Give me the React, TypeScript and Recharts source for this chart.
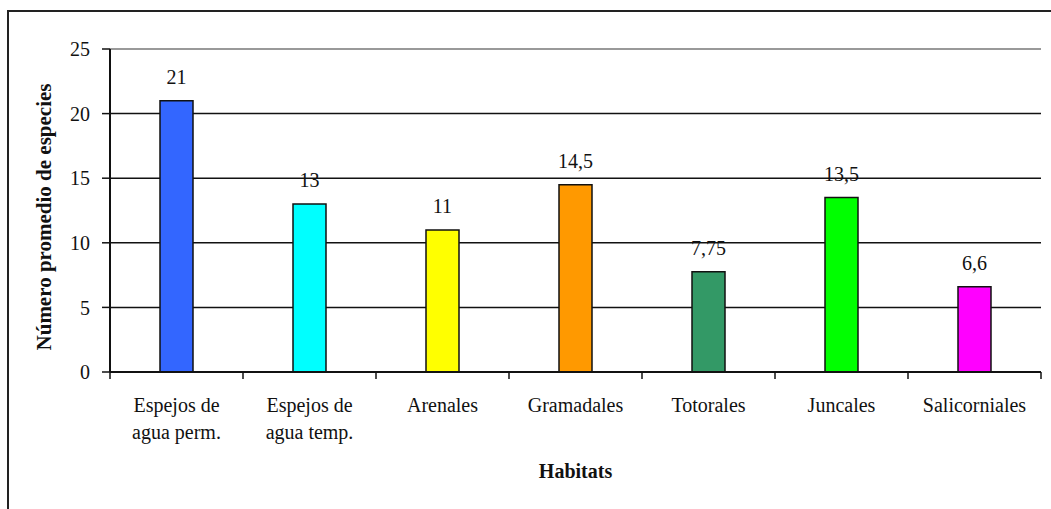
import React from 'react';
import { BarChart, Bar, XAxis, YAxis, CartesianGrid, Cell, LabelList, ReferenceLine, Label } from 'recharts';

const categories = ['Espejos de agua perm.', 'Espejos de agua temp.', 'Arenales', 'Gramadales', 'Totorales', 'Juncales', 'Salicorniales'];
const categoryLines = [['Espejos de', 'agua perm.'], ['Espejos de', 'agua temp.'], ['Arenales'], ['Gramadales'], ['Totorales'], ['Juncales'], ['Salicorniales']];
const values = [21, 13, 11, 14.5, 7.75, 13.5, 6.6];
const colors = ['#3366FF', '#00FFFF', '#FFFF00', '#FF9900', '#339966', '#00FF00', '#FF00FF'];
const yTicks = [0, 5, 10, 15, 20, 25];
const yLabel = 'Número promedio de especies';
const xLabel = 'Habitats';

const data = categories.map((c, i) => ({ name: c, value: values[i] }));

const FONT = '"Liberation Serif", "Times New Roman", serif';

const XTick = (props: any) => {
  const { x, y, payload } = props;
  const lines = categoryLines[payload.index] || [payload.value];
  const half = payload.offset || 0;
  const isLast = payload.index === categories.length - 1;
  return (
    <g>
      <line x1={x - half} x2={x - half} y1={y} y2={y + 7} stroke="#111" strokeWidth={1.5} />
      {isLast && <line x1={x + half} x2={x + half} y1={y} y2={y + 7} stroke="#111" strokeWidth={1.5} />}
      <text x={x} y={y} textAnchor="middle" fontFamily={FONT} fontSize={20} fill="#111">
        {lines.map((l: string, i: number) => (
          <tspan key={i} x={x} dy={i === 0 ? 40 : 27}>{l}</tspan>
        ))}
      </text>
    </g>
  );
};

const YLabelContent = (props: any) => {
  const cx = 51;
  const cy = 217;
  return (
    <text x={cx} y={cy} transform={`rotate(-90, ${cx}, ${cy})`} textAnchor="middle" fontFamily={FONT} fontSize={21} fontWeight="bold" fill="#111">
      {yLabel}
    </text>
  );
};

const XLabelContent = (props: any) => {
  const vb = props.viewBox;
  return (
    <text x={vb.x + vb.width / 2} y={vb.y + 106} textAnchor="middle" fontFamily={FONT} fontSize={20} fontWeight="bold" fill="#111">
      {xLabel}
    </text>
  );
};

export default function App() {
  return (
    <div style={{ position: 'fixed', left: 0, top: 0, width: 1051, height: 509, overflow: 'hidden', background: '#fff' }}>
      <div style={{ position: 'absolute', left: 7, top: 10, width: 1100, height: 600, border: '2px solid #222', boxSizing: 'border-box' }} />
      <div style={{ position: 'absolute', left: 0, top: 0 }}>
        <BarChart width={1051} height={509} data={data} margin={{ top: 49, right: 10, left: 0, bottom: 0 }}>
          <CartesianGrid vertical={false} stroke="#111" strokeWidth={1.5} strokeOpacity={1} />
          <XAxis dataKey="name" tick={<XTick />} tickLine={false} tickSize={0} tickMargin={0} axisLine={{ stroke: '#111', strokeWidth: 2 }} height={137} interval={0}>
            <Label content={<XLabelContent />} />
          </XAxis>
          <YAxis domain={[0, 25]} ticks={yTicks} width={110} tickSize={8} tickMargin={12} axisLine={{ stroke: '#111', strokeWidth: 2 }} tickLine={{ stroke: '#111', strokeWidth: 1.5 }} tick={{ fontFamily: FONT, fontSize: 20, fill: '#111' }}>
            <Label content={<YLabelContent />} />
          </YAxis>
          <YAxis yAxisId="r" orientation="right" domain={[0, 25]} width={0} tick={false} tickLine={false} axisLine={{ stroke: '#999', strokeWidth: 2 }} />
          <ReferenceLine y={25} stroke="#999" strokeWidth={2} />
          <Bar dataKey="value" barSize={33} stroke="#111" strokeWidth={1.5} isAnimationActive={false}>
            {data.map((d, i) => (
              <Cell key={i} fill={colors[i]} />
            ))}
            <LabelList dataKey="value" position="top" offset={17} fontFamily={FONT} fontSize={20} fill="#111" formatter={(v: any) => String(v).replace('.', ',')} />
          </Bar>
        </BarChart>
      </div>
    </div>
  );
}
